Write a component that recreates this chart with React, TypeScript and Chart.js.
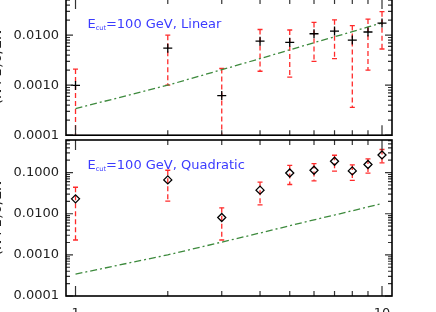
import React, { useEffect, useRef } from "react";
import { Chart, registerables } from "chart.js";

Chart.register(...registerables);

// ---------------- data ----------------
const xValues = [1, 2, 3, 4, 5, 6, 7, 8, 9, 10];

const linearValues = [0.00099, 0.0055, 0.00062, 0.0076, 0.0072, 0.0107, 0.0121, 0.008, 0.0116, 0.0175];
const linearHigh = [0.0021, 0.01, 0.00216, 0.013, 0.0127, 0.018, 0.0203, 0.0156, 0.021, 0.0295];
const linearLow = [0.00005, 0.001, 0.00005, 0.0019, 0.00145, 0.003, 0.0034, 0.00036, 0.002, 0.0053];

const quadValues = [0.023, 0.0665, 0.0081, 0.0374, 0.098, 0.114, 0.189, 0.11, 0.157, 0.269];
const quadHigh = [0.044, 0.114, 0.0139, 0.0585, 0.149, 0.166, 0.264, 0.154, 0.215, 0.364];
const quadLow = [0.0023, 0.0202, 0.0023, 0.0164, 0.0514, 0.063, 0.108, 0.065, 0.097, 0.172];

const curveValues = [0.00034, 0.001, 0.00204, 0.0034, 0.0051, 0.0071, 0.0093, 0.0118, 0.0146, 0.0177];

const xMajorTicks = [1, 10];
const xMajorLabels = ["1", "10"];
const xMinorTicks = [2, 3, 4, 5, 6, 7, 8, 9];
const xRange = [0.931, 10.78];

const yMajorTicksTop = [0.0001, 0.001, 0.01];
const yMajorLabelsTop = ["0.0001", "0.0010", "0.0100"];
const yRangeTop = [0.0001, 0.053];

const yMajorTicksBottom = [0.0001, 0.001, 0.01, 0.1];
const yMajorLabelsBottom = ["0.0001", "0.0010", "0.0100", "0.1000"];
const yRangeBottom = [0.0001, 0.62];

const yTitle = "(N+1)σ/ΣN";
const panelTextMain = "E";
const panelTextSub = "cut";
const panelTextTop = "=100 GeV, Linear";
const panelTextBottom = "=100 GeV, Quadratic";

// ---------------- helpers ----------------
const FONT = '"DejaVu Sans", "Liberation Sans", sans-serif';
const CANVAS_LEFT = -12;
const CANVAS_WIDTH = 448;
const AXIS_LEFT = 78; // canvas px -> page 66

function logTicks(majors: number[], range: number[]) {
  const out: number[] = [];
  const lo = Math.floor(Math.log10(range[0]) + 1e-9);
  const hi = Math.ceil(Math.log10(range[1]) - 1e-9);
  for (let e = lo; e <= hi; e++) {
    for (let k = 1; k <= 9; k++) {
      const v = k * Math.pow(10, e);
      if (v >= range[0] * 0.9999 && v <= range[1] * 1.0001) out.push(v);
    }
  }
  majors.forEach((m) => {
    if (!out.some((v) => Math.abs(v - m) / m < 1e-6)) out.push(m);
  });
  return out.sort((a, b) => a - b);
}

function isIn(list: number[], v: number) {
  return list.findIndex((m) => Math.abs(v - m) / m < 1e-6);
}

interface PanelSpec {
  values: number[];
  high: number[];
  low: number[];
  pointStyle: string;
  radius: number;
  yRange: number[];
  yMajors: number[];
  yLabels: string[];
  showX: boolean;
  xAxisHeight: number;
  padTop: number;
  text: string;
}

function makeChart(canvas: HTMLCanvasElement, p: PanelSpec) {
  const errorBars = {
    id: "errorBars",
    beforeDatasetsDraw(chart: any) {
      const { ctx, chartArea: a } = chart;
      const xs = chart.scales.x;
      const ys = chart.scales.y;
      ctx.save();
      ctx.beginPath();
      ctx.rect(a.left, a.top, a.right - a.left, a.bottom - a.top);
      ctx.clip();
      ctx.strokeStyle = "#ff2a2a";
      ctx.lineWidth = 1.3;
      xValues.forEach((xv, i) => {
        const px = xs.getPixelForValue(xv);
        const ph = ys.getPixelForValue(p.high[i]);
        const pl = ys.getPixelForValue(p.low[i]);
        ctx.setLineDash([5, 3]);
        ctx.beginPath();
        ctx.moveTo(px, ph);
        ctx.lineTo(px, pl);
        ctx.stroke();
        ctx.setLineDash([]);
        ctx.beginPath();
        ctx.moveTo(px - 2.5, ph);
        ctx.lineTo(px + 2.5, ph);
        ctx.moveTo(px - 2.5, pl);
        ctx.lineTo(px + 2.5, pl);
        ctx.stroke();
      });
      ctx.restore();
    },
  };

  const frame = {
    id: "frame",
    afterDatasetsDraw(chart: any) {
      const { ctx, chartArea: a } = chart;
      const xs = chart.scales.x;
      const ys = chart.scales.y;
      ctx.save();
      ctx.strokeStyle = "#333";
      ctx.lineWidth = 1.2;
      ctx.beginPath();
      xs.ticks.forEach((t: any) => {
        const px = xs.getPixelForValue(t.value);
        const L = isIn(xMajorTicks, t.value) >= 0 ? 10 : 5;
        ctx.moveTo(px, a.bottom);
        ctx.lineTo(px, a.bottom - L);
        ctx.moveTo(px, a.top);
        ctx.lineTo(px, a.top + L);
      });
      ys.ticks.forEach((t: any) => {
        const py = ys.getPixelForValue(t.value);
        const L = isIn(p.yMajors, t.value) >= 0 ? 7 : 4;
        ctx.moveTo(a.left, py);
        ctx.lineTo(a.left + L, py);
        ctx.moveTo(a.right, py);
        ctx.lineTo(a.right - L, py);
      });
      ctx.stroke();
      ctx.strokeStyle = "#000";
      ctx.lineWidth = 1.6;
      ctx.strokeRect(a.left, a.top, a.right - a.left, a.bottom - a.top);
      ctx.restore();
    },
    afterDraw(chart: any) {
      const { ctx, chartArea: a } = chart;
      ctx.save();
      ctx.fillStyle = "#3b3bff";
      ctx.textBaseline = "alphabetic";
      ctx.textAlign = "left";
      const x0 = a.left + 21.5;
      const y0 = a.top + 28.5;
      ctx.font = `13px ${FONT}`;
      ctx.fillText(panelTextMain, x0, y0);
      const w1 = ctx.measureText(panelTextMain).width;
      ctx.font = `6.5px ${FONT}`;
      ctx.fillText(panelTextSub, x0 + w1, y0 + 2);
      const w2 = ctx.measureText(panelTextSub).width;
      ctx.font = `13px ${FONT}`;
      ctx.fillText(p.text, x0 + w1 + w2, y0);
      ctx.restore();
    },
  };

  const yTickList = logTicks(p.yMajors, p.yRange);
  const xTickList = [...xMajorTicks, ...xMinorTicks].sort((a, b) => a - b);

  return new Chart(canvas, {
    type: "line",
    data: {
      datasets: [
        {
          label: "points",
          data: xValues.map((x, i) => ({ x, y: p.values[i] })),
          showLine: false,
          pointStyle: p.pointStyle as any,
          pointRadius: p.radius,
          pointBorderColor: "#000",
          pointBackgroundColor: "rgba(0,0,0,0)",
          pointBorderWidth: 1.3,
          order: 1,
        },
        {
          label: "curve",
          data: xValues.map((x, i) => ({ x, y: curveValues[i] })),
          borderColor: "#3d8a3d",
          borderWidth: 1.3,
          borderDash: [7, 3, 2, 3],
          pointRadius: 0,
          fill: false,
          tension: 0,
          order: 2,
        },
      ],
    },
    options: {
      animation: false,
      responsive: false,
      maintainAspectRatio: false,
      layout: { padding: { left: 0, right: CANVAS_WIDTH - AXIS_LEFT - 326, top: p.padTop, bottom: 0 } },
      plugins: { legend: { display: false }, tooltip: { enabled: false } },
      scales: {
        x: {
          type: "logarithmic",
          min: xRange[0],
          max: xRange[1],
          grid: { display: false, drawTicks: false },
          border: { display: false },
          ticks: {
            display: p.showX,
            autoSkip: false,
            maxRotation: 0,
            padding: 10,
            color: "#222",
            font: { family: FONT, size: 13 },
            callback: (v: any) => {
              const j = isIn(xMajorTicks, Number(v));
              return j >= 0 ? xMajorLabels[j] : "";
            },
          },
          afterBuildTicks: (s: any) => {
            s.ticks = xTickList.map((v) => ({ value: v }));
          },
          afterFit: (s: any) => {
            s.height = p.xAxisHeight;
          },
        },
        y: {
          type: "logarithmic",
          min: p.yRange[0],
          max: p.yRange[1],
          grid: { display: false, drawTicks: false },
          border: { display: false },
          ticks: {
            autoSkip: false,
            padding: 7,
            color: "#222",
            font: { family: FONT, size: 13 },
            callback: (v: any) => {
              const j = isIn(p.yMajors, Number(v));
              return j >= 0 ? p.yLabels[j] : "";
            },
          },
          title: {
            display: true,
            text: yTitle,
            color: "#222",
            padding: { top: 1, bottom: 0 },
            font: { family: FONT, size: 14 },
          },
          afterBuildTicks: (s: any) => {
            s.ticks = yTickList.map((v) => ({ value: v }));
          },
          afterFit: (s: any) => {
            s.width = AXIS_LEFT;
          },
        },
      },
    } as any,
    plugins: [errorBars, frame],
  });
}

export default function App() {
  const topRef = useRef<HTMLCanvasElement>(null);
  const botRef = useRef<HTMLCanvasElement>(null);

  useEffect(() => {
    const c1 = makeChart(topRef.current!, {
      values: linearValues,
      high: linearHigh,
      low: linearLow,
      pointStyle: "cross",
      radius: 4.5,
      yRange: yRangeTop,
      yMajors: yMajorTicksTop,
      yLabels: yMajorLabelsTop,
      showX: false,
      xAxisHeight: 10,
      padTop: 19,
      text: panelTextTop,
    });
    const c2 = makeChart(botRef.current!, {
      values: quadValues,
      high: quadHigh,
      low: quadLow,
      pointStyle: "rectRot",
      radius: 4,
      yRange: yRangeBottom,
      yMajors: yMajorTicksBottom,
      yLabels: yMajorLabelsBottom,
      showX: true,
      xAxisHeight: 24,
      padTop: 20,
      text: panelTextBottom,
    });
    return () => {
      c1.destroy();
      c2.destroy();
    };
  }, []);

  return (
    <div
      style={{
        position: "fixed",
        left: 0,
        top: 0,
        width: 436,
        height: 312,
        overflow: "hidden",
        background: "#fff",
      }}
    >
      <canvas
        ref={topRef}
        width={CANVAS_WIDTH}
        height={170}
        style={{ position: "absolute", left: CANVAS_LEFT, top: -20, width: CANVAS_WIDTH, height: 170 }}
      />
      <canvas
        ref={botRef}
        width={CANVAS_WIDTH}
        height={200}
        style={{ position: "absolute", left: CANVAS_LEFT, top: 120, width: CANVAS_WIDTH, height: 200 }}
      />
    </div>
  );
}
